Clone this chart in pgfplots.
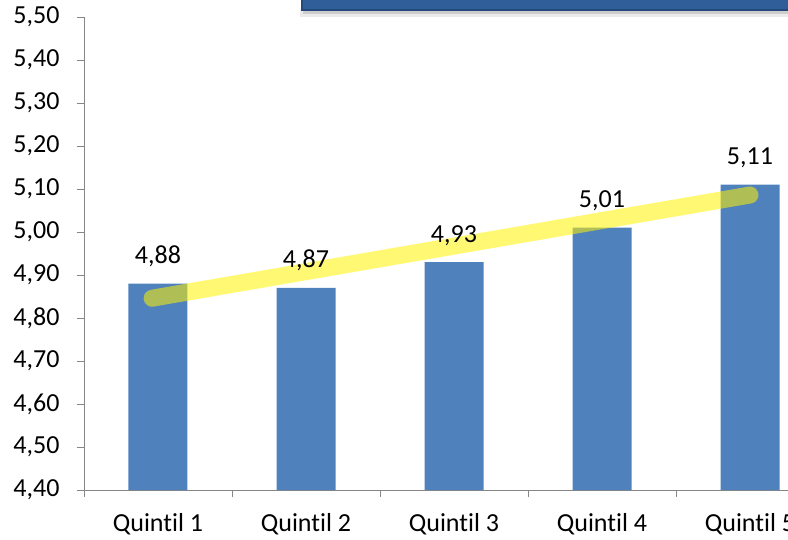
\documentclass[border=0pt]{standalone}
\usepackage{pgfplots}
\pgfplotsset{compat=1.18}
\usepackage{fontspec}
\setmainfont[Ligatures={NoCommon}]{Carlito}
\definecolor{barblue}{HTML}{4F81BD}
\definecolor{axisgray}{HTML}{868686}
\definecolor{boxblue}{HTML}{2F5E99}
\definecolor{boxedge}{HTML}{24497A}
\begin{document}
\begin{tikzpicture}[x=1pt,y=1pt]
\begin{axis}[
  at={(84pt,49pt)}, anchor=south west,
  scale only axis, width=740pt, height=473pt,
  xmin=-0.5, xmax=4.5, ymin=4.4, ymax=5.5,
  axis x line*=bottom, axis y line*=left,
  axis line style={axisgray, line width=0.9pt},
  every tick/.style={axisgray, line width=0.9pt},
  tick align=outside, major tick length=7pt,
  ytick={4.4,4.5,4.6,4.7,4.8,4.9,5.0,5.1,5.2,5.3,5.4,5.5},
  xtick={-0.5,0.5,1.5,2.5,3.5,4.5}, xticklabels={},
  extra x ticks={0,1,2,3,4},
  extra x tick labels={Quintil 1,Quintil 2,Quintil 3,Quintil 4,Quintil 5},
  extra x tick style={major tick length=0pt},
  tick label style={font=\fontsize{26}{31}\selectfont, text=black},
  yticklabel style={xshift=-14pt, /pgf/number format/.cd, fixed, fixed zerofill, precision=2, use comma, assume math mode=true},
  xticklabel style={yshift=-20pt},
]
\addplot[ybar, bar width=59pt, fill=barblue, draw=none,
  nodes near coords,
  nodes near coords style={font=\fontsize{26}{31}\selectfont, text=black, anchor=base, yshift=20pt,
    /pgf/number format/.cd, fixed, fixed zerofill, precision=2, use comma, assume math mode=true}]
  coordinates {(0,4.88) (1,4.87) (2,4.93) (3,5.01) (4,5.11)};
\addplot[draw=yellow, line width=17pt, line cap=round, draw opacity=0.55]
  coordinates {(-0.04,4.846) (4.0,5.086)};
\end{axis}
\fill[black, opacity=0.08] (300,522) rectangle (800,530);
\fill[black, opacity=0.12] (303,525) rectangle (800,530);
\filldraw[fill=boxblue, draw=boxedge, line width=1.5pt] (302,529) rectangle (800,548);
\pgfresetboundingbox
\useasboundingbox (0,0) rectangle (788,539);
\end{tikzpicture}
\end{document}
